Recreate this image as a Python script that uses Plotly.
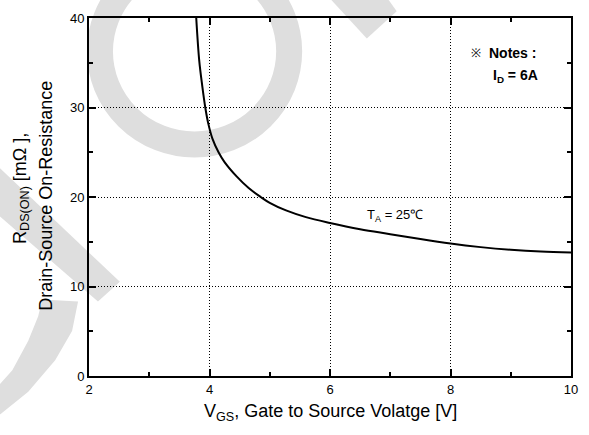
import plotly.graph_objects as go

# ---- data ----
vgs = [3.78, 3.83, 3.88, 3.93, 3.98, 4.05, 4.15, 4.25, 4.45, 4.65, 4.85, 5.0, 5.27, 5.6,
       6.0, 6.5, 7.0, 7.5, 8.0, 8.5, 9.0, 9.5, 10.0]
rds_on = [40.0, 35.2, 32.4, 30.0, 28.2, 26.5, 25.0, 23.9, 22.3, 21.0, 20.0, 19.35, 18.5, 17.75,
          17.1, 16.4, 15.85, 15.3, 14.8, 14.4, 14.1, 13.9, 13.8]
x_ticks = [2, 4, 6, 8, 10]
y_ticks = [0, 10, 20, 30, 40]

FONT = "Arial, Liberation Sans, sans-serif"
W, H = 589, 435
L, R, T, B = 89, 16, 11, 59
PW, PH = W - L - R, H - T - B


def px(x):
    return (x - L) / PW


def py(y):
    return (H - B - y) / PH


def path(pts):
    s = "M%.4f,%.4f" % (px(pts[0][0]), py(pts[0][1]))
    for a, b in pts[1:]:
        s += " L%.4f,%.4f" % (px(a), py(b))
    return s + " Z"


fig = go.Figure()
fig.add_trace(go.Scatter(x=vgs, y=rds_on, mode="lines",
                         line=dict(color="black", width=2, shape="spline", smoothing=1.0),
                         hoverinfo="skip", showlegend=False))

WM = "#dedede"
shapes = [
    # watermark ring
    dict(type="circle", xref="paper", yref="paper", layer="below",
         x0=px(100), x1=px(290), y0=py(140), y1=py(-50),
         line=dict(color=WM, width=26)),
    # left diagonal band
    dict(type="path", xref="paper", yref="paper", layer="below", fillcolor=WM,
         line=dict(width=0),
         path=path([(-10, 155), (-10, 205), (98, 300), (120, 280)])),
    # top diagonal band
    dict(type="path", xref="paper", yref="paper", layer="below", fillcolor=WM,
         line=dict(width=0),
         path=path([(330, -10), (368, 32), (398, 4), (388, -10)])),
    # bottom-left arc
    dict(type="path", xref="paper", yref="paper", layer="below", fillcolor=WM,
         line=dict(width=0),
         path=path([(42, 298), (78, 300), (72, 330), (55, 360), (28, 392), (0, 415),
                    (-10, 415), (-10, 395), (12, 370), (28, 340), (38, 315)])),
]

ann = [
    dict(text="※", x=px(478), y=py(47), xanchor="center", yanchor="middle",
         font=dict(size=12, color="black", family=FONT)),
    dict(text="<b>Notes :</b>", x=px(489), y=py(47), xanchor="left", yanchor="middle",
         font=dict(size=14, color="black", family=FONT)),
    dict(text="<b>I<sub>D</sub> = 6A</b>", x=px(493), y=py(70), xanchor="left", yanchor="middle",
         font=dict(size=14, color="black", family=FONT)),
    dict(text="T<sub>A</sub> = 25℃", x=px(366), y=py(212), xanchor="left", yanchor="middle",
         font=dict(size=13, color="black", family=FONT)),
    dict(text="R<sub>DS(ON)</sub> [mΩ ],", x=px(21), y=py(185), textangle=-90,
         xanchor="center", yanchor="middle",
         font=dict(size=18, color="black", family=FONT)),
    dict(text="Drain-Source On-Resistance", x=px(45), y=py(192), textangle=-90,
         xanchor="center", yanchor="middle",
         font=dict(size=18, color="black", family=FONT)),
    dict(text="V<sub>GS</sub>, Gate to Source Volatge [V]", x=px(331), y=py(413),
         xanchor="center", yanchor="middle",
         font=dict(size=18, color="black", family=FONT)),
]
for a in ann:
    a.update(xref="paper", yref="paper", showarrow=False)

axis_common = dict(showline=True, linecolor="black", linewidth=2, mirror="allticks",
                   ticks="inside", ticklen=7, tickwidth=1.5, tickcolor="black",
                   showgrid=True, gridcolor="black", gridwidth=1, griddash="1px,2px",
                   zeroline=False, tickfont=dict(size=13, color="black", family=FONT))

fig.update_layout(
    width=W, height=H, autosize=False,
    margin=dict(l=L, r=R, t=T, b=B),
    paper_bgcolor="white", plot_bgcolor="rgba(0,0,0,0)",
    font=dict(family=FONT, color="black"),
    shapes=shapes, annotations=ann,
    xaxis=dict(range=[2, 10], tickvals=x_ticks, ticktext=[str(v) for v in x_ticks],
               minor=dict(dtick=1, ticks="inside", ticklen=4, tickcolor="black", showgrid=False),
               **axis_common),
    yaxis=dict(range=[0, 40], tickvals=y_ticks, ticktext=[str(v) for v in y_ticks],
               minor=dict(dtick=5, ticks="inside", ticklen=4, tickcolor="black", showgrid=False),
               **axis_common),
)

fig.write_html("out.html")
